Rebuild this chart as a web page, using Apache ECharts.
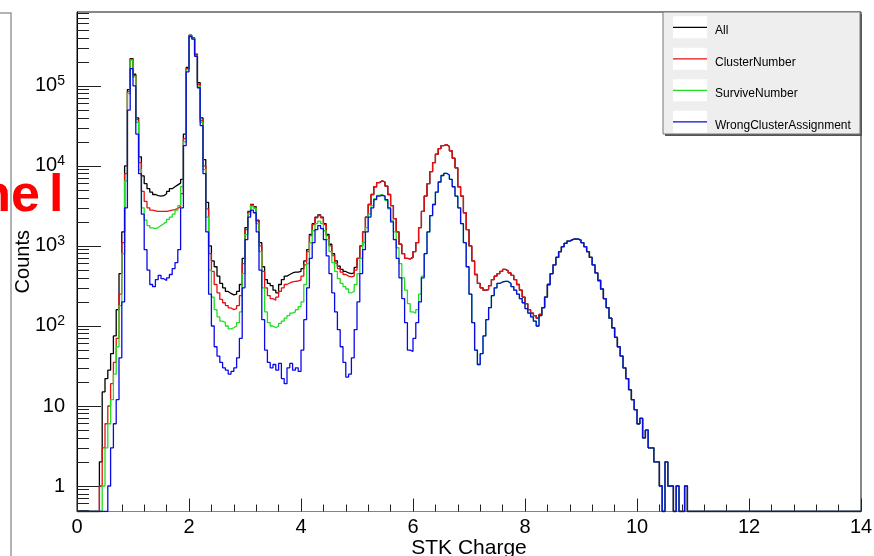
<!DOCTYPE html>
<html><head><meta charset="utf-8">
<script src="https://cdn.jsdelivr.net/npm/echarts@6/dist/echarts.min.js"></script>
<style>html,body{margin:0;padding:0;background:#fff}#c{width:874px;height:556px}</style>
</head><body><div id="c"></div>
<script>
// ---- binning (STK Charge), bin width 0.05 ----
const BIN_START = 0.35;
const BIN_WIDTH = 0.05;
const X_MIN = 0, X_MAX = 14;
const Y_MIN = 0.48, Y_MAX = 8.4e5;

const seriesNames = ['All', 'ClusterNumber', 'SurviveNumber', 'WrongClusterAssignment'];
const seriesColors = ['#000000', '#e81010', '#1ee01e', '#0a0ae6'];
const xTickValues = [0, 2, 4, 6, 8, 10, 12, 14];
const yLabelValues = [1, 10, 100, 1000, 10000, 100000];

// All: bins 0.35 .. 4.95
const allLow = [
  0, 2, 15, 22, 28, 45, 75, 160, 450, 1500,                         // 0.35
  10000, 90000, 220000, 140000, 40000, 13000, 7500, 6000, 5200, 4700, // 0.85
  4400, 4250, 4200, 4250, 4500, 4800, 5200, 5500, 5800, 6100,       // 1.35
  6800, 25000, 170000, 430000, 400000, 250000, 110000, 40000, 12000, 3500, // 1.85
  1000, 650, 550, 420, 340, 300, 270, 255, 245, 250,                // 2.35
  270, 330, 700, 1700, 2700, 3300, 3100, 2100, 1100, 550,           // 2.85
  380, 340, 320, 280, 260, 330, 380, 420, 440, 460,                 // 3.35
  470, 470, 480, 520, 650, 900, 1400, 1900, 2300, 2450,             // 3.85
  2300, 1900, 1400, 1050, 800, 650, 560, 510, 480, 460,             // 4.35
  450, 460, 540                                                     // 4.85
];
// ClusterNumber: bins 0.35 .. 4.95
const clusterLow = [
  0, 1, 3, 6, 10, 19, 35, 70, 250, 1100,
  8000, 85000, 215000, 135000, 38000, 11000, 4800, 3600, 3000, 2800,
  2750, 2700, 2700, 2700, 2700, 2750, 2800, 2850, 2950, 3100,
  4500, 22000, 165000, 425000, 395000, 245000, 105000, 37000, 10000, 2900,
  800, 480, 330, 260, 215, 195, 180, 168, 160, 165,
  180, 240, 600, 1600, 2650, 3250, 3050, 2050, 1000, 480,
  300, 240, 220, 210, 230, 270, 300, 330, 345, 355,
  360, 365, 375, 420, 580, 850, 1350, 1850, 2250, 2400,
  2250, 1850, 1350, 1000, 760, 610, 520, 470, 440, 420,
  410, 420, 500
];
// All and ClusterNumber coincide: bins 5.00 .. 8.25
const allClusterMid = [
  700, 1000, 1500, 2300, 3300, 4400, 5500, 6200, 6500, 6300,        // 5.00
  5600, 4400, 3200, 2200, 1500, 1050, 800, 700, 690, 720,           // 5.50
  850, 1100, 1700, 2700, 4200, 6000, 8500, 11000, 14000, 16500,     // 6.00
  18000, 18500, 17500, 15500, 12500, 9500, 5500, 4200, 2600, 1600,  // 6.50
  1000, 650, 440, 340, 300, 280, 285, 320, 380, 420,                // 7.00
  450, 480, 510, 490, 460, 430, 380, 330, 280, 230,                 // 7.50
  190, 160, 145, 135, 125, 140                                      // 8.00
];
// SurviveNumber: bins 0.35 .. 6.15
const surviveLow = [
  0, 0, 1, 3, 6, 12, 25, 55, 180, 800,
  6500, 80000, 210000, 130000, 35000, 9000, 3000, 2100, 1800, 1680,
  1650, 1700, 1800, 1900, 2000, 2150, 2300, 2500, 2800, 3200,
  5500, 20000, 160000, 420000, 390000, 240000, 100000, 35000, 9000, 2300,
  500, 230, 160, 130, 115, 110, 100, 92, 95, 100,
  110, 150, 450, 1400, 2500, 3150, 2950, 1900, 850, 300,
  150, 110, 100, 95, 100, 108, 115, 125, 135, 145,
  150, 160, 175, 200, 330, 600, 1100, 1550, 1900, 2050,
  1900, 1550, 1200, 850, 620, 480, 390, 340, 310, 290,
  260, 270, 330, 450, 700, 1100, 1700, 2500, 3200, 3900,
  4300, 4400, 4200, 3700, 2900, 2100, 1500, 950, 600, 400,
  280, 190, 150, 145, 160, 250, 420
];
// WrongClusterAssignment: bins 0.35 .. 6.15
const wrongLow = [
  0, 0, 0, 0, 1, 3, 6, 12, 40, 200,
  3000, 50000, 165000, 100000, 25000, 8000, 2500, 900, 500, 330,
  310, 380, 430, 390, 370, 400, 440, 520, 620, 900,
  3000, 18000, 150000, 415000, 385000, 235000, 95000, 32000, 8000, 1500,
  250, 100, 55, 42, 35, 30, 28, 25, 27, 30,
  40, 70, 300, 1200, 2300, 2800, 2600, 1500, 500, 120,
  50, 35, 30, 33, 28, 34, 22, 19, 30, 34,
  28, 30, 27, 50, 120, 300, 700, 1100, 1600, 1800,
  1650, 1200, 750, 450, 260, 150, 90, 55, 35, 23,
  25, 40, 90, 200, 450, 900, 1500, 2300, 3000, 3800,
  4200, 4300, 4200, 3800, 3000, 2000, 1200, 700, 400, 220,
  110, 50, 48, 70, 110, 200, 400
];
// SurviveNumber and WrongClusterAssignment coincide: bins 6.20 .. 8.25
const surviveWrongMid = [
  800, 1500, 2400, 3300, 4700, 6300, 7600, 8100, 7700, 6800,        // 6.20
  5500, 4200, 3000, 1900, 1100, 550, 250, 110, 50, 33,              // 6.70
  45, 75, 120, 170, 240, 300, 340, 355, 360, 360,                   // 7.20
  340, 310, 280, 250, 220, 195, 165, 145, 130, 115,                 // 7.70
  100, 135                                                          // 8.20
];
// all four coincide: bins 8.30 .. 10.90
const commonTail = [
  170, 230, 330, 450, 580, 720, 850, 980, 1080, 1150,               // 8.30
  1200, 1230, 1220, 1180, 1100, 980, 850, 720, 580, 460,            // 8.80
  370, 290, 220, 170, 125, 95, 72, 55, 42, 30,                      // 9.30
  22, 16, 12, 9, 6, 7, 4, 5, 3, 3,                                  // 9.80
  2, 2, 1, 0, 2, 1, 1, 0, 1, 0,                                     // 10.30
  0, 1, 0                                                           // 10.80
];

const seriesCounts = [
  allLow.concat(allClusterMid, commonTail),
  clusterLow.concat(allClusterMid, commonTail),
  surviveLow.concat(surviveWrongMid, commonTail),
  wrongLow.concat(surviveWrongMid, commonTail)
];

function histPoints(values) {
  const pts = [[X_MIN, Y_MIN]];
  values.forEach((v, i) => {
    const x = +(BIN_START + i * BIN_WIDTH).toFixed(3);
    pts.push([x, v > 0 ? v : Y_MIN]);
  });
  pts.push([+(BIN_START + values.length * BIN_WIDTH).toFixed(3), Y_MIN]);
  pts.push([X_MAX, Y_MIN]);
  return pts;
}

const yMinorValues = [];
for (let e = -1; e <= 5; e++) {
  for (let m = 2; m <= 9; m++) {
    const v = m * Math.pow(10, e);
    if (v > Y_MIN && v < Y_MAX) yMinorValues.push(v);
  }
}

const FONT = 'Liberation Sans';
const chart = echarts.init(document.getElementById('c'), null, { renderer: 'canvas' });

const legendTextY = [30.7, 62.2, 93.7, 125.2];
// legend line sample sits ~3.4px above the text centre, inside a 34x14 icon box
const LEGEND_ICON = 'path://M0,0 L0.01,0 L0.01,0.01 Z M0,3 L34,3 L34,4.3 L0,4.3 Z M0,13.99 L0.01,13.99 L0.01,14 Z';

chart.setOption({
  animation: false,
  backgroundColor: '#ffffff',
  grid: { left: 77, right: 13, top: 12, bottom: 44.5, show: true, borderColor: '#111', borderWidth: 1, backgroundColor: 'transparent', outerBoundsMode: 'none' },
  xAxis: {
    type: 'value', min: X_MIN, max: X_MAX, interval: 2,
    axisLine: { show: true, lineStyle: { color: '#7878e0', width: 1 } },
    axisTick: { show: true, inside: true, length: 13, lineStyle: { color: '#222' } },
    minorTick: { show: true, splitNumber: 5, length: 7, lineStyle: { color: '#222' } },
    splitLine: { show: false },
    axisLabel: { fontSize: 20, fontFamily: FONT, color: '#000', margin: 6, customValues: xTickValues },
    name: 'STK Charge', nameLocation: 'middle', nameGap: 26, nameMoveOverlap: false,
    nameTextStyle: { fontSize: 21, fontFamily: FONT, color: '#000' }
  },
  yAxis: [
    {
      type: 'log', logBase: 10, min: Y_MIN, max: Y_MAX, position: 'left',
      axisLine: { show: true, lineStyle: { color: '#000' } },
      axisTick: { show: true, inside: true, length: 24, customValues: yLabelValues, lineStyle: { color: '#222' } },
      splitLine: { show: false },
      axisLabel: {
        customValues: yLabelValues, margin: 12,
        formatter: function (v) {
          const e = Math.round(Math.log10(v));
          if (e === 0) return '{b|1}';
          if (e === 1) return '{b|10}';
          return '{b|10}{s|' + e + '}';
        },
        rich: {
          b: { fontSize: 20, fontFamily: FONT, color: '#000' },
          s: { fontSize: 14, fontFamily: FONT, color: '#000', padding: [0, 0, 10, 0] }
        }
      },
      name: 'Counts', nameLocation: 'middle', nameRotate: 90, nameGap: 44, nameMoveOverlap: false,
      nameTextStyle: { fontSize: 20, fontFamily: FONT, color: '#000' }
    },
    {
      type: 'log', logBase: 10, min: Y_MIN, max: Y_MAX, position: 'left',
      axisLine: { show: false },
      axisTick: { show: true, inside: true, length: 12, customValues: yMinorValues, lineStyle: { color: '#222' } },
      axisLabel: { show: false },
      splitLine: { show: false }
    }
  ],
  legend: {
    orient: 'vertical', left: 673, top: legendTextY[0] - 7, z: 20,
    itemWidth: 34, itemHeight: 14, itemGap: 17.5, padding: 0,
    icon: LEGEND_ICON, symbolKeepAspect: false,
    textStyle: { fontSize: 12, fontFamily: FONT, color: '#000', padding: [0, 0, 0, 3] },
    data: seriesNames
  },
  graphic: [
    { type: 'polyline', shape: { points: [[0, 13], [11, 13], [11, 556]] }, style: { stroke: '#9a9a9a', lineWidth: 1.5, fill: null }, z: 0 },
    { type: 'text', x: 40, y: 197, style: { text: 'ne', font: 'bold 52px "Liberation Sans"', fill: '#ff0000', align: 'right', verticalAlign: 'middle' }, z: 10 },
    { type: 'text', x: 49, y: 197, style: { text: 'l', font: 'bold 52px "Liberation Sans"', fill: '#ff0000', align: 'left', verticalAlign: 'middle' }, z: 10 },
    { type: 'rect', shape: { x: 665, y: 14, width: 197, height: 122 }, style: { fill: '#555' }, z: 1 },
    { type: 'rect', shape: { x: 663, y: 12, width: 197, height: 122 }, style: { fill: '#eeeeee', stroke: '#777', lineWidth: 1 }, z: 1 },
    { type: 'rect', shape: { x: 673, y: legendTextY[0] - 14.5, width: 34, height: 22 }, style: { fill: '#fff' }, z: 1 },
    { type: 'rect', shape: { x: 673, y: legendTextY[1] - 14.5, width: 34, height: 22 }, style: { fill: '#fff' }, z: 1 },
    { type: 'rect', shape: { x: 673, y: legendTextY[2] - 14.5, width: 34, height: 22 }, style: { fill: '#fff' }, z: 1 },
    { type: 'rect', shape: { x: 673, y: legendTextY[3] - 14.5, width: 34, height: 22 }, style: { fill: '#fff' }, z: 1 }
  ],
  series: seriesNames.map((name, i) => ({
    name: name, type: 'line', step: 'end', symbol: 'none', showSymbol: false,
    yAxisIndex: 0, clip: true,
    lineStyle: { color: seriesColors[i], width: 1.3 },
    itemStyle: { color: seriesColors[i] },
    data: histPoints(seriesCounts[i])
  }))
});
</script></body></html>
